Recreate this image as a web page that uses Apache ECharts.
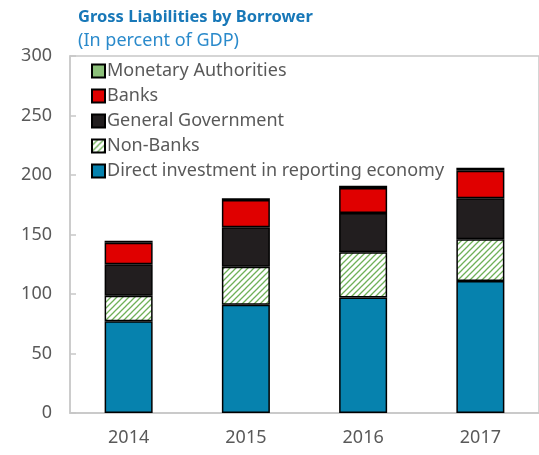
<!DOCTYPE html>
<html>
<head>
<meta charset="utf-8">
<script src="https://cdn.jsdelivr.net/npm/echarts@6/dist/echarts.min.js"></script>
<style>
  html, body { margin: 0; padding: 0; background: #fff; }
  #chart { width: 539px; height: 455px; }
</style>
</head>
<body>
<div id="chart"></div>
<script>
// Gross liabilities by borrower, percent of GDP
const years = ['2014', '2015', '2016', '2017'];
const directInvestment = [77, 91, 97, 111];
const nonBanks = [21.5, 32, 38, 35];
const generalGovernment = [26.5, 33, 33, 34.5];
const banks = [18, 23, 21, 23];
const monetaryAuthorities = [1.7, 1.5, 2, 2.5];
const yTicks = [0, 50, 100, 150, 200, 250, 300];

const FONT = '"Noto Sans", "Open Sans", sans-serif';
const GRAY = '#595959';

// Green diagonal hatch on white for the Non-Banks segments
function hatchPattern() {
  const c = document.createElement('canvas');
  c.width = 6; c.height = 6;
  const ctx = c.getContext('2d');
  ctx.fillStyle = '#ffffff';
  ctx.fillRect(0, 0, 6, 6);
  ctx.strokeStyle = '#6fb058';
  ctx.lineWidth = 1.3;
  ctx.beginPath();
  ctx.moveTo(-1, 7); ctx.lineTo(7, -1);
  ctx.moveTo(-4, 4); ctx.lineTo(4, -4);
  ctx.moveTo(2, 10); ctx.lineTo(10, 2);
  ctx.stroke();
  return c;
}

const border = { borderColor: '#000', borderWidth: 1.5 };
function barSeries(name, data, color) {
  return {
    name: name,
    type: 'bar',
    stack: 'total',
    data: data,
    barWidth: 48,
    itemStyle: Object.assign({ color: color }, border),
    emphasis: { disabled: true }
  };
}

const chart = echarts.init(document.getElementById('chart'), null, { renderer: 'canvas' });
chart.setOption({
  animation: false,
  textStyle: { fontFamily: FONT },
  title: {
    text: 'Gross Liabilities by Borrower',
    subtext: '(In percent of GDP)',
    left: 73, top: 4,
    itemGap: 6,
    textStyle: { fontFamily: FONT, fontSize: 16.5, fontWeight: 'bold', color: '#1878b8' },
    subtextStyle: { fontFamily: FONT, fontSize: 18, color: '#2a8acb' }
  },
  grid: {
    left: 70, right: -3, top: 56, bottom: 42,
    show: true, borderColor: '#c8c8c8', borderWidth: 1.5
  },
  legend: {
    orient: 'vertical',
    left: 86, top: 57,
    icon: 'rect',
    itemWidth: 13, itemHeight: 13,
    itemGap: 7,
    data: ['Monetary Authorities', 'Banks', 'General Government', 'Non-Banks', 'Direct investment in reporting economy'],
    textStyle: { fontFamily: FONT, fontSize: 18, lineHeight: 18, color: GRAY, padding: [0, 0, 0, -3] }
  },
  xAxis: {
    type: 'category',
    data: years,
    axisLine: { lineStyle: { color: '#c8c8c8', width: 1.5 } },
    axisTick: { inside: true, length: 6, lineStyle: { color: '#c8c8c8', width: 1.5 } },
    axisLabel: { fontFamily: FONT, fontSize: 18, color: GRAY, margin: 16 }
  },
  yAxis: {
    type: 'value',
    min: yTicks[0], max: yTicks[yTicks.length - 1], interval: 50,
    axisLine: { show: true, lineStyle: { color: '#c8c8c8', width: 1.5 } },
    axisTick: { show: true, inside: true, length: 6, lineStyle: { color: '#c8c8c8', width: 1.5 } },
    splitLine: { show: false },
    axisLabel: { fontFamily: FONT, fontSize: 18, color: GRAY, margin: 18 }
  },
  series: [
    barSeries('Direct investment in reporting economy', directInvestment, '#0682ae'),
    barSeries('Non-Banks', nonBanks, { image: hatchPattern(), repeat: 'repeat' }),
    barSeries('General Government', generalGovernment, '#221e1f'),
    barSeries('Banks', banks, '#e00000'),
    barSeries('Monetary Authorities', monetaryAuthorities, '#8cc07a')
  ]
});
</script>
</body>
</html>
